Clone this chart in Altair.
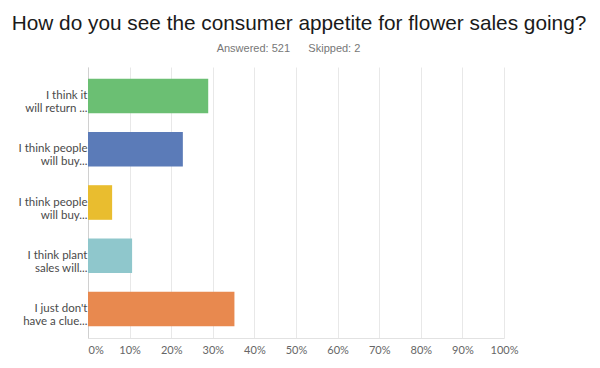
import json
import altair as alt
import pandas as pd

# ---- data ----
labels = [
    "I think it|will return ...",
    "I think people|will buy...",
    "I think people|will buy...",
    "I think plant|sales will...",
    "I just don't|have a clue...",
]
values = [28.9, 22.8, 5.8, 10.6, 35.2]
colors = ["#6bbf73", "#5b7bb8", "#e9bd2f", "#8fc7cc", "#e8894f"]
ticks = [0, 10, 20, 30, 40, 50, 60, 70, 80, 90, 100]

title_text = "How do you see the consumer appetite for flower sales going?"
nb = "\u00a0"
subtitle_text = "Answered: 521" + nb * 6 + "Skipped: 2"

df = pd.DataFrame({"idx": list(range(len(labels))), "label": labels,
                   "value": values, "color": colors})

label_expr = f"split({json.dumps(labels)}[datum.value], '|')"

y_enc = alt.Y(
    "idx:O",
    scale=alt.Scale(paddingInner=0.35, paddingOuter=0.22),
    axis=alt.Axis(
        title=None, labelExpr=label_expr, ticks=False,
        domainColor="#d0d0d0", labelFont="Lato", labelFontSize=11.5,
        labelColor="#4a4a4a", labelPadding=1, labelLineHeight=13,
        labelLimit=200,
    ),
)

bars = alt.Chart(df).mark_bar().encode(
    x=alt.X(
        "value:Q",
        scale=alt.Scale(domain=[0, 100], nice=False),
        axis=alt.Axis(
            values=ticks, labelExpr="datum.value + '%'", title=None,
            grid=True, gridColor="#e8e8e8", domainColor="#e2e2e2",
            ticks=False, labelColor="#666666", labelFontSize=11,
            labelFont="Lato", labelPadding=6, labelFlush=False,
            labelAlign={"expr": "datum.value == 0 ? 'left' : 'center'"},
        ),
    ),
    y=y_enc,
    color=alt.Color("color:N", scale=None),
)

# invisible layer carrying the "Answered / Skipped" line as a top-axis title
header = alt.Chart(df).mark_point(opacity=0).encode(
    x=alt.X(
        "value:Q",
        scale=alt.Scale(domain=[0, 100], nice=False),
        axis=alt.Axis(
            orient="top", title=subtitle_text, labels=False, ticks=False,
            domain=False, grid=False, titleFont="Liberation Sans",
            titleFontSize=11, titleFontWeight="normal", titleColor="#777777",
            titleX=200, titleY=-16, titleAlign="center",
            titleBaseline="alphabetic",
        ),
    ),
    y=alt.Y("idx:O"),
)

chart = alt.layer(bars, header).resolve_axis(x="independent").properties(
    width=416,
    height=271,
    autosize=alt.AutoSizeParams(type="none"),
    padding={"left": 80, "top": 59, "right": 88, "bottom": 22},
    title=alt.TitleParams(
        text=title_text,
        anchor="middle",
        dx=3,
        font="Liberation Sans",
        fontSize=20.8,
        fontWeight="normal",
        color="#1a1a1a",
        offset=7,
    ),
).configure_view(stroke=None)

chart.save("out.html", embed_options={"renderer": "svg", "actions": False})
